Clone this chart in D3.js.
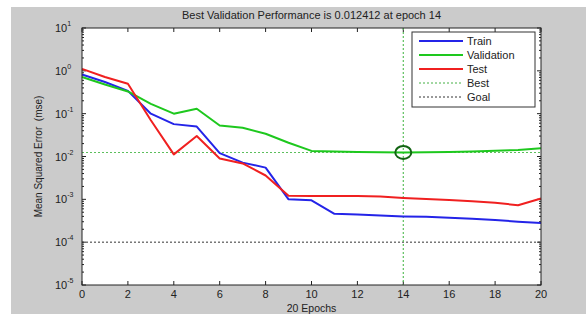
<!DOCTYPE html>
<html>
<head>
<meta charset="utf-8">
<script src="https://cdn.jsdelivr.net/npm/d3@7"></script>
<style>
  html, body { margin: 0; padding: 0; background: #fff; }
  svg { display: block; font-family: "Liberation Sans", Arial, sans-serif; }
</style>
</head>
<body>
<svg id="chart" width="586" height="314"></svg>
<script>
// data
const epochs = d3.range(0, 21);
const trainMse = [0.82, 0.55, 0.34, 0.10, 0.057, 0.050, 0.012, 0.0072, 0.0055, 0.0010, 0.00095,
  0.00046, 0.00044, 0.00042, 0.00040, 0.00039, 0.00037, 0.00035, 0.00033, 0.00030, 0.00028];
const validationMse = [0.72, 0.48, 0.33, 0.17, 0.10, 0.13, 0.053, 0.047, 0.034, 0.021, 0.0135,
  0.0130, 0.0128, 0.0126, 0.012412, 0.0125, 0.0128, 0.0131, 0.0136, 0.0142, 0.0155];
const testMse = [1.11, 0.72, 0.50, 0.07, 0.0112, 0.030, 0.009, 0.0069, 0.0036, 0.00122, 0.0012,
  0.0012, 0.0012, 0.00117, 0.00108, 0.00102, 0.00096, 0.0009, 0.00083, 0.00073, 0.00105];
const bestEpoch = 14;
const bestPerf = 0.012412;
const goal = 1e-4;
const xTicks = d3.range(0, 21, 2);
const yTicks = [1e-5, 1e-4, 1e-3, 1e-2, 1e-1, 1e0, 1e1];
const legendItems = [
  { name: 'Train', color: '#2424e8', dash: null },
  { name: 'Validation', color: '#1ec81e', dash: null },
  { name: 'Test', color: '#f02020', dash: null },
  { name: 'Best', color: '#44b044', dash: '2,2' },
  { name: 'Goal', color: '#333', dash: '2,2' }
];

const svg = d3.select('#chart');
const margin = { left: 82, right: 45, top: 28, bottom: 29 };
const W = 586, H = 314;

// figure background (grey with white strip top/left as in the screenshot)
svg.append('rect').attr('width', W).attr('height', H).attr('fill', '#fff');
svg.append('rect').attr('x', 11).attr('y', 7).attr('width', W - 11).attr('height', H - 7).attr('fill', '#cbcbcb');

const x = d3.scaleLinear().domain([0, 20]).range([margin.left, W - margin.right]);
const y = d3.scaleLog().domain([1e-5, 1e1]).range([H - margin.bottom, margin.top]);

svg.append('rect')
  .attr('x', x(0)).attr('y', y(1e1))
  .attr('width', x(20) - x(0)).attr('height', y(1e-5) - y(1e1))
  .attr('fill', '#fff');

// ticks (inside, both sides)
const tickG = svg.append('g').attr('stroke', '#222').attr('stroke-width', 1);
xTicks.forEach(t => {
  tickG.append('line').attr('x1', x(t)).attr('x2', x(t)).attr('y1', y(1e-5)).attr('y2', y(1e-5) - 4);
  tickG.append('line').attr('x1', x(t)).attr('x2', x(t)).attr('y1', y(1e1)).attr('y2', y(1e1) + 4);
});
const minor = [];
for (let e = -5; e < 1; e++) for (let m = 2; m <= 9; m++) minor.push(m * Math.pow(10, e));
minor.forEach(v => {
  tickG.append('line').attr('x1', x(0)).attr('x2', x(0) + 2).attr('y1', y(v)).attr('y2', y(v));
  tickG.append('line').attr('x1', x(20)).attr('x2', x(20) - 2).attr('y1', y(v)).attr('y2', y(v));
});
yTicks.forEach(v => {
  tickG.append('line').attr('x1', x(0)).attr('x2', x(0) + 4).attr('y1', y(v)).attr('y2', y(v));
  tickG.append('line').attr('x1', x(20)).attr('x2', x(20) - 4).attr('y1', y(v)).attr('y2', y(v));
});

// goal and best reference lines
svg.append('line')
  .attr('x1', x(0)).attr('x2', x(20)).attr('y1', y(goal)).attr('y2', y(goal))
  .attr('stroke', '#333').attr('stroke-width', 1).attr('stroke-dasharray', '2,2');
svg.append('line')
  .attr('x1', x(0)).attr('x2', x(20)).attr('y1', y(bestPerf)).attr('y2', y(bestPerf))
  .attr('stroke', '#5cbf5c').attr('stroke-width', 1.2).attr('stroke-dasharray', '2,2');
svg.append('line')
  .attr('x1', x(bestEpoch)).attr('x2', x(bestEpoch)).attr('y1', y(1e1)).attr('y2', y(1e-5))
  .attr('stroke', '#5cbf5c').attr('stroke-width', 1.2).attr('stroke-dasharray', '2,2');

// series
const line = d3.line().x(d => x(d[0])).y(d => y(d[1]));
const series = [
  { values: trainMse, color: legendItems[0].color },
  { values: validationMse, color: legendItems[1].color },
  { values: testMse, color: legendItems[2].color }
];
series.forEach(s => {
  svg.append('path')
    .datum(epochs.map((e, i) => [e, s.values[i]]))
    .attr('d', line)
    .attr('fill', 'none')
    .attr('stroke', s.color)
    .attr('stroke-width', 2)
    .attr('stroke-linejoin', 'round');
});

// best circle
svg.append('ellipse')
  .attr('cx', x(bestEpoch)).attr('cy', y(bestPerf))
  .attr('rx', 8).attr('ry', 6.5)
  .attr('fill', 'none').attr('stroke', '#126412').attr('stroke-width', 2);

// axis frame
svg.append('rect')
  .attr('x', x(0)).attr('y', y(1e1))
  .attr('width', x(20) - x(0)).attr('height', y(1e-5) - y(1e1))
  .attr('fill', 'none').attr('stroke', '#222').attr('stroke-width', 1);

// tick labels
svg.append('g').selectAll('text').data(xTicks).join('text')
  .attr('x', d => x(d)).attr('y', y(1e-5) + 13)
  .attr('text-anchor', 'middle').attr('font-size', 11).attr('fill', '#222')
  .text(d => d);

const yl = svg.append('g').selectAll('text').data(yTicks).join('text')
  .attr('x', x(0) - 27).attr('y', d => y(d) + 4)
  .attr('font-size', 11).attr('fill', '#222');
yl.append('tspan').text('10');
yl.append('tspan').attr('dy', -6).attr('font-size', 7).text(d => Math.round(Math.log10(d)));

// titles
svg.append('text')
  .attr('x', (x(0) + x(20)) / 2).attr('y', 19)
  .attr('text-anchor', 'middle').attr('font-size', 11).attr('fill', '#222')
  .text('Best Validation Performance is 0.012412 at epoch 14');
svg.append('text')
  .attr('x', (x(0) + x(20)) / 2).attr('y', 312)
  .attr('text-anchor', 'middle').attr('font-size', 10.5).attr('fill', '#222')
  .text('20 Epochs');
svg.append('text')
  .attr('transform', `translate(42,${(y(1e1) + y(1e-5)) / 2}) rotate(-90)`)
  .attr('text-anchor', 'middle').attr('font-size', 10).attr('fill', '#222')
  .attr('xml:space', 'preserve')
  .text('Mean Squared Error  (mse)');

// legend
const lg = svg.append('g').attr('transform', 'translate(412,32)');
lg.append('rect').attr('width', 123).attr('height', 75)
  .attr('fill', '#fff').attr('stroke', '#333').attr('stroke-width', 1);
legendItems.forEach((d, i) => {
  const yy = 9 + i * 14;
  lg.append('line').attr('x1', 7).attr('x2', 51).attr('y1', yy).attr('y2', yy)
    .attr('stroke', d.color).attr('stroke-width', d.dash ? 1 : 2)
    .attr('stroke-dasharray', d.dash);
  lg.append('text').attr('x', 55).attr('y', yy + 4)
    .attr('font-size', 11).attr('fill', '#222').text(d.name);
});
</script>
</body>
</html>
